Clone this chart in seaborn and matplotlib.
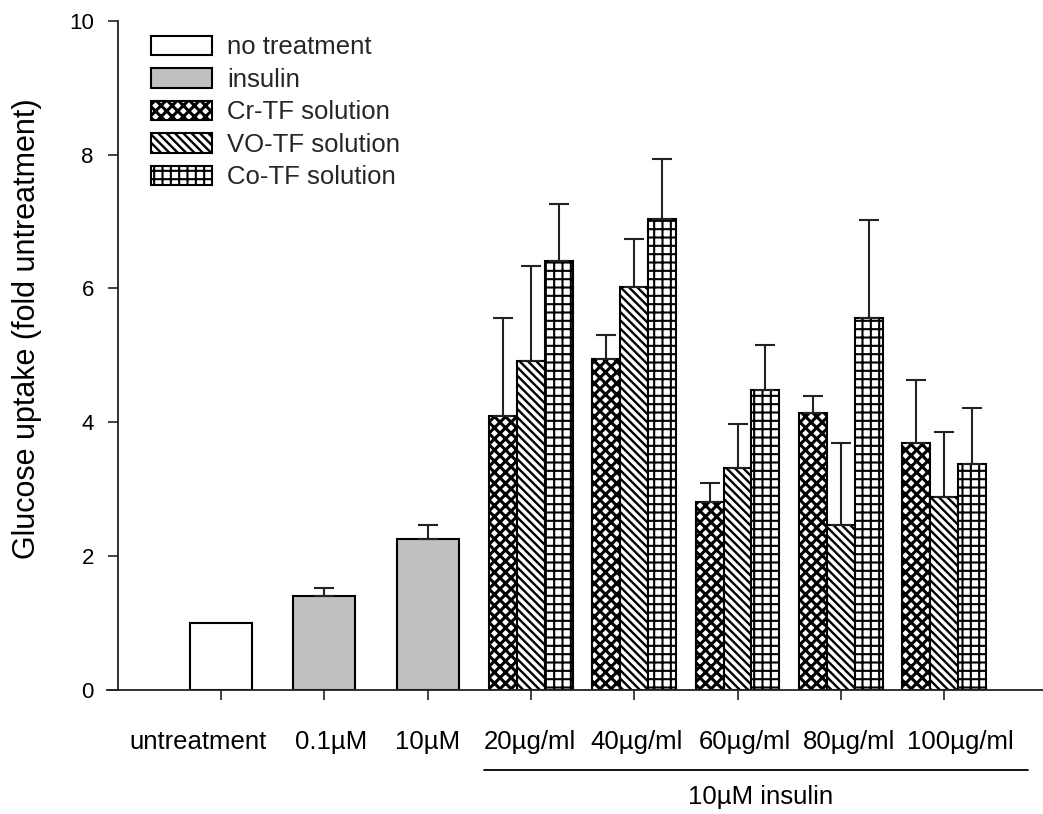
import matplotlib
matplotlib.use("Agg")
import matplotlib.pyplot as plt
import matplotlib.patches as mpatches
import matplotlib.transforms as mtransforms
import numpy as np
import pandas as pd
import seaborn as sns

# ---- data -------------------------------------------------------------
categories = ["untreatment", "0.1\u00b5M", "10\u00b5M", "20\u00b5g/ml", "40\u00b5g/ml",
              "60\u00b5g/ml", "80\u00b5g/ml", "100\u00b5g/ml"]

# control / insulin-only bars
single_labels = ["untreatment", "0.1\u00b5M", "10\u00b5M"]
single_groups = ["no treatment", "insulin", "insulin"]
single_values = [1.00, 1.41, 2.26]
single_errors = [0.0, 0.12, 0.20]

# complexes at increasing dose, all with 10 uM insulin
dose_labels = ["20\u00b5g/ml", "40\u00b5g/ml", "60\u00b5g/ml", "80\u00b5g/ml", "100\u00b5g/ml"]
series_names = ["Cr-TF solution", "VO-TF solution", "Co-TF solution"]
cr_values = [4.10, 4.95, 2.81, 4.14, 3.69]
cr_errors = [1.46, 0.36, 0.28, 0.26, 0.94]
vo_values = [4.92, 6.02, 3.32, 2.47, 2.89]
vo_errors = [1.42, 0.72, 0.66, 1.22, 0.97]
co_values = [6.41, 7.03, 4.48, 5.56, 3.37]
co_errors = [0.85, 0.91, 0.67, 1.46, 0.85]

yticks = [0, 2, 4, 6, 8, 10]
ylabel = "Glucose uptake (fold untreatment)"
bracket_label = "10\u00b5M insulin"

# ---- styling ----------------------------------------------------------
sns.set_style("white")
plt.rcParams["font.family"] = ["Liberation Sans", "DejaVu Sans"]
plt.rcParams["hatch.linewidth"] = 1.6
plt.rcParams["hatch.color"] = "black"

single_palette = {"no treatment": "white", "insulin": "#c0c0c0"}
series_hatches = {"Cr-TF solution": "xxx", "VO-TF solution": "\\\\\\\\",
                  "Co-TF solution": "++"}
series_hatch_lw = {"Cr-TF solution": 2.2, "VO-TF solution": 1.7,
                   "Co-TF solution": 1.5}
# horizontal nudges (px) of the category labels under their ticks
label_shift_px = [-23, 7, 0, -1, 2, 7, 8, 16]

df_single = pd.DataFrame({"condition": single_labels, "group": single_groups,
                          "value": single_values, "err": single_errors})
series_values = [cr_values, vo_values, co_values]
series_errors = [cr_errors, vo_errors, co_errors]
df_dose = pd.DataFrame({
    "condition": np.repeat([dose_labels], 3, axis=0).ravel(),
    "series": np.repeat(series_names, len(dose_labels)),
    "value": np.concatenate(series_values),
    "err": np.concatenate(series_errors),
})

fig = plt.figure(figsize=(10.43, 8.14), dpi=100)
ax = fig.add_axes([0.1026, 0.1523, 0.8974, 0.8223])

edge_kw = dict(edgecolor="black", linewidth=1.5)

sns.barplot(data=df_single, x="condition", y="value", hue="group", order=categories,
            hue_order=["no treatment", "insulin"], palette=single_palette,
            dodge=False, width=0.6, errorbar=None, legend=False, ax=ax, **edge_kw)
n_single = len(ax.containers)

sns.barplot(data=df_dose, x="condition", y="value", hue="series", order=categories,
            hue_order=series_names, palette=["white"] * 3,
            dodge=True, width=0.81, errorbar=None, legend=False, ax=ax, **edge_kw)

# hatch patterns for the dose series
for name, cont in zip(series_names, ax.containers[n_single:]):
    for bar in cont:
        bar.set_hatch(series_hatches[name])
        bar.set_hatch_linewidth(series_hatch_lw[name])
        bar.set_facecolor("white")

# one-sided (upper) error bars at the centre of every bar
def add_errors(container_list, frames):
    for cont, sub in zip(container_list, frames):
        bars = sorted(cont, key=lambda b: b.get_x())
        present = [c for c in categories if c in set(sub["condition"])]
        sub = sub.set_index("condition").loc[present]
        xs = np.array([b.get_x() + b.get_width() / 2 for b in bars])
        ys = sub["value"].to_numpy()
        es = sub["err"].to_numpy()
        mask = es > 0
        if mask.any():
            ax.errorbar(xs[mask], ys[mask],
                        yerr=[np.zeros(mask.sum()), es[mask]],
                        fmt="none", ecolor="#222222", elinewidth=1.5,
                        capsize=7.2, capthick=1.5, zorder=1)

add_errors(ax.containers[:n_single],
           [df_single[df_single["group"] == g] for g in ["no treatment", "insulin"]])
add_errors(ax.containers[n_single:],
           [df_dose[df_dose["series"] == s] for s in series_names])

# axes
ax.set_ylim(0, 10)
ax.set_xlim(-1.104, 7.957)
ax.set_yticks(yticks)
ax.set_yticklabels([str(t) for t in yticks])
ax.set_xticks(range(len(categories)))
ax.set_xticklabels(categories)
ax.set_xlabel("")
ax.set_ylabel(ylabel, fontsize=22, color="black")
ax.yaxis.set_label_coords(-0.069, 0.54)

for side in ["top", "right"]:
    ax.spines[side].set_visible(False)
ax.spines["left"].set_position(("data", -1.0))
ax.spines["left"].set_bounds(0, 10)
for side in ["left", "bottom"]:
    ax.spines[side].set_linewidth(1.3)
    ax.spines[side].set_color("#222222")

ax.tick_params(axis="x", direction="out", length=7.2, width=1.2, pad=21.5,
               labelsize=18.5, colors="#222222", labelcolor="black", bottom=True)
ax.tick_params(axis="y", direction="out", length=7.2, width=1.2, pad=10,
               labelsize=16, colors="#222222", labelcolor="black", left=True)

for lab, dx in zip(ax.get_xticklabels(), label_shift_px):
    lab.set_transform(lab.get_transform() +
                      mtransforms.ScaledTranslation(dx / 100, 0, fig.dpi_scale_trans))

# bracket under the insulin + complex groups
trans = mtransforms.blended_transform_factory(ax.transData, ax.transAxes)
ax.plot([2.546, 7.81], [-0.1195, -0.1195], color="black", linewidth=1.3,
        transform=trans, clip_on=False)
ax.text(5.22, -0.160, bracket_label, transform=trans, ha="center", va="center",
        fontsize=18.5, color="black")

# legend
legend_handles = [
    mpatches.Patch(facecolor=single_palette["no treatment"], edgecolor="black",
                   linewidth=1.5, label="no treatment"),
    mpatches.Patch(facecolor=single_palette["insulin"], edgecolor="black",
                   linewidth=1.5, label="insulin"),
] + [mpatches.Patch(facecolor="white", edgecolor="black", linewidth=1.5,
                    hatch=series_hatches[n], label=n) for n in series_names]
leg = ax.legend(handles=legend_handles, loc="upper left", bbox_to_anchor=(0.047, 0.978),
                frameon=False, fontsize=18.5, handlelength=2.37, handleheight=0.78,
                handletextpad=0.58, labelspacing=0.33, borderpad=0, borderaxespad=0)
for h, n in zip(leg.get_patches()[2:], series_names):
    h.set_hatch_linewidth(series_hatch_lw[n])

fig.savefig("out.png", dpi=100)
